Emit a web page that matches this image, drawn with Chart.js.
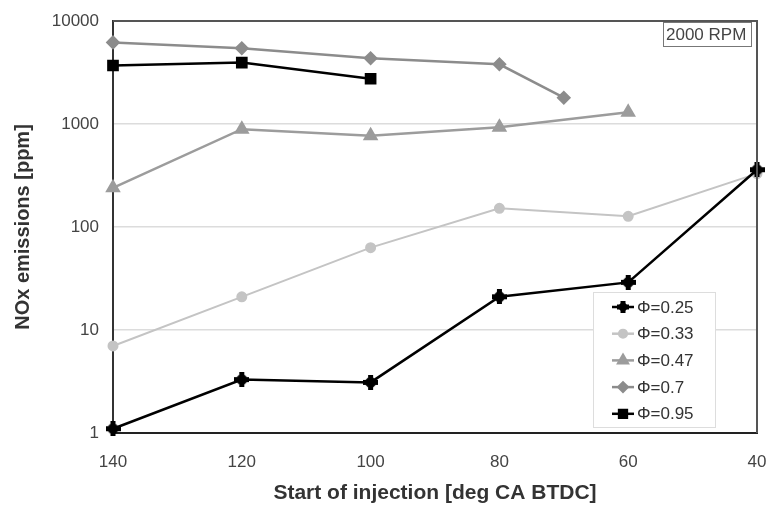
<!DOCTYPE html>
<html>
<head>
<meta charset="utf-8">
<script src="https://cdn.jsdelivr.net/npm/chart.js@4/dist/chart.umd.min.js"></script>
<style>
  html, body { margin: 0; padding: 0; background: #fff; }
  #wrap { width: 768px; height: 506px; }
</style>
</head>
<body>
<div id="wrap"><canvas id="noxChart" width="768" height="506"></canvas></div>
<script>
// start of injection [deg CA BTDC]
const soi = [140, 120, 100, 80, 60, 40];
const soiPhi07 = [140, 120, 100, 80, 70];
const soiPhi095 = [140, 120, 100];

// NOx [ppm]
const noxPhi025 = [1.1, 3.3, 3.1, 21, 29, 360];
const noxPhi033 = [7.0, 21, 63, 152, 127, 330];
const noxPhi047 = [240, 890, 770, 930, 1300];
const noxPhi07 = [6200, 5450, 4350, 3800, 1800];
const noxPhi095 = [3700, 3950, 2750];

const seriesNames = ['Φ=0.25', 'Φ=0.33', 'Φ=0.47', 'Φ=0.7', 'Φ=0.95'];
const yTicks = [1, 10, 100, 1000, 10000];
const xTicks = [140, 120, 100, 80, 60, 40];

const FONT = '"Liberation Sans", Arial, sans-serif';

function pairs(xs, ys) {
  return ys.map((y, i) => ({ x: xs[i], y: y }));
}

// bold cross/diamond marker used for phi=0.25
function crossMarker(size) {
  const c = document.createElement('canvas');
  c.width = size; c.height = size;
  const g = c.getContext('2d');
  const m = size / 2;
  g.fillStyle = '#000';
  g.beginPath();
  g.moveTo(m, 0); g.lineTo(size, m); g.lineTo(m, size); g.lineTo(0, m);
  g.closePath(); g.fill();
  g.fillRect(m - 2.5, 0, 5, size);
  g.fillRect(0, m - 2.5, size, 5);
  return c;
}
const crossImg = crossMarker(15);
const crossSmall = crossMarker(12);

const datasets = [
  { label: seriesNames[0], data: pairs(soi, noxPhi025), borderColor: '#000', backgroundColor: '#000',
    borderWidth: 2.5, pointStyle: crossImg, legendStyle: crossSmall, pointRadius: 7 },
  { label: seriesNames[1], data: pairs(soi, noxPhi033), borderColor: '#c4c4c4', backgroundColor: '#c4c4c4',
    borderWidth: 2, pointStyle: 'circle', pointRadius: 4.5 },
  { label: seriesNames[2], data: pairs(soi, noxPhi047), borderColor: '#9c9c9c', backgroundColor: '#9c9c9c',
    borderWidth: 2.5, pointStyle: 'triangle', pointRadius: 6.5 },
  { label: seriesNames[3], data: pairs(soiPhi07, noxPhi07), borderColor: '#8c8c8c', backgroundColor: '#8c8c8c',
    borderWidth: 2.5, pointStyle: 'rectRot', pointRadius: 5.5 },
  { label: seriesNames[4], data: pairs(soiPhi095, noxPhi095), borderColor: '#000', backgroundColor: '#000',
    borderWidth: 2.5, pointStyle: 'rect', pointRadius: 6.5 }
];
datasets.forEach(d => { d.clip = false; });

// frame, legend box and "2000 RPM" label inside the plot
const boxPlugin = {
  id: 'boxes',
  afterDatasetsDraw(chart) {
    const ctx = chart.ctx;
    const a = chart.chartArea;
    ctx.save();
    // top/right frame
    ctx.strokeStyle = '#555';
    ctx.lineWidth = 2;
    ctx.beginPath();
    ctx.moveTo(a.left, a.top); ctx.lineTo(a.right, a.top); ctx.lineTo(a.right, a.bottom);
    ctx.stroke();

    // 2000 RPM box
    ctx.fillStyle = '#fff';
    ctx.fillRect(663, 22, 89, 25);
    ctx.strokeStyle = '#777';
    ctx.lineWidth = 1;
    ctx.strokeRect(663.5, 22.5, 88, 24);
    ctx.save();
    ctx.beginPath(); ctx.rect(663, 22, 88, 25); ctx.clip();
    ctx.font = '17px ' + FONT;
    ctx.fillStyle = '#444';
    ctx.textBaseline = 'middle';
    ctx.fillText('2000 RPM', 666, 35);
    ctx.restore();

    // legend
    const lx = 593, ly = 292, lw = 122, lh = 135;
    ctx.fillStyle = '#fff';
    ctx.fillRect(lx, ly, lw, lh);
    ctx.strokeStyle = '#ddd';
    ctx.strokeRect(lx + 0.5, ly + 0.5, lw, lh);
    ctx.font = '17px ' + FONT;
    ctx.textBaseline = 'middle';
    chart.data.datasets.forEach((ds, i) => {
      const y = ly + 15 + i * 26.7;
      ctx.strokeStyle = ds.borderColor;
      ctx.lineWidth = 2.5;
      ctx.beginPath();
      ctx.moveTo(lx + 19, y); ctx.lineTo(lx + 41, y);
      ctx.stroke();
      ctx.fillStyle = ds.backgroundColor;
      Chart.helpers.drawPoint(ctx, {
        pointStyle: ds.legendStyle || ds.pointStyle, radius: ds.pointRadius * 0.85, borderWidth: 1, rotation: 0
      }, lx + 30, y);
      ctx.fillStyle = '#333';
      ctx.fillText(ds.label, lx + 44, y + 1);
    });
    ctx.restore();
  }
};

new Chart(document.getElementById('noxChart').getContext('2d'), {
  type: 'line',
  data: { datasets: datasets },
  options: {
    responsive: false,
    animation: false,
    layout: { padding: { top: 21, right: 11, left: 0, bottom: 0 } },
    plugins: { legend: { display: false }, tooltip: { enabled: false } },
    scales: {
      x: {
        type: 'linear', reverse: true, min: 40, max: 140,
        afterBuildTicks: s => { s.ticks = xTicks.map(v => ({ value: v })); },
        afterFit: s => { s.height = 73; s.paddingLeft = 0; s.paddingRight = 0; },
        grid: { display: false, drawOnChartArea: false },
        border: { color: '#222', width: 2 },
        ticks: { color: '#444', font: { size: 17, family: FONT }, padding: 11 },
        title: { display: true, text: 'Start of injection [deg CA BTDC]', color: '#333',
                 font: { size: 21, weight: 'bold', family: FONT }, padding: { top: 1, bottom: 0 } }
      },
      y: {
        type: 'logarithmic', min: 1, max: 10000,
        afterBuildTicks: s => { s.ticks = yTicks.map(v => ({ value: v })); },
        afterFit: s => { s.width = 113; s.paddingTop = 0; s.paddingBottom = 0; },
        grid: { color: '#dcdcdc', lineWidth: 1.5, drawTicks: false },
        border: { color: '#333', width: 2 },
        ticks: { color: '#444', padding: 14, callback: v => String(v),
                 font: { size: 17, family: FONT } },
        title: { display: true, text: 'NOx emissions [ppm]', color: '#333',
                 font: { size: 20, weight: 'bold', family: FONT }, padding: { top: 11, bottom: 0 } }
      }
    }
  },
  plugins: [boxPlugin]
});
</script>
</body>
</html>
